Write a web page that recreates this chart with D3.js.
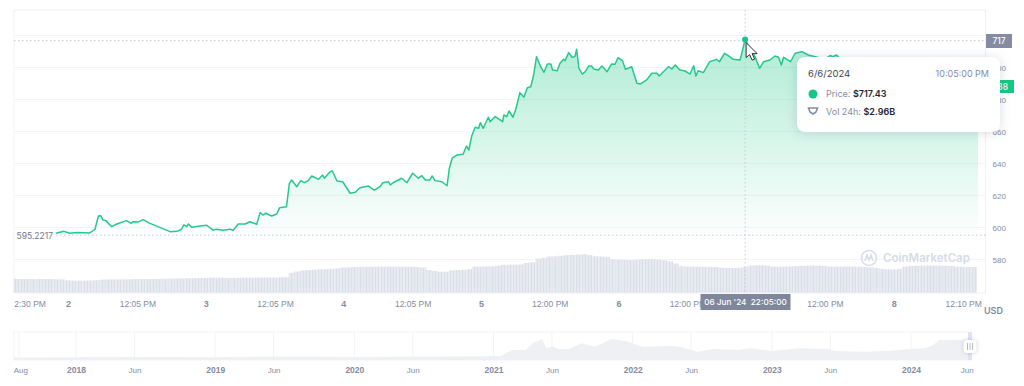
<!DOCTYPE html>
<html>
<head>
<meta charset="utf-8">
<script src="https://cdn.jsdelivr.net/npm/d3@7"></script>
<style>
  html, body { margin: 0; padding: 0; background: #fff; }
  svg { display: block; font-family: Inter, "Noto Sans", sans-serif; }
  .domain { display: none; }
</style>
</head>
<body>
<svg id="chart" width="1024" height="386"></svg>
<script>
// hours counted from 2 Jun 2024 00:00
const priceHours = [-2.1,-0.7,0.3,1.6,3.8,4.7,5.3,5.7,6.1,6.6,7.6,8.5,10.2,11.0,11.3,12.2,13.1,14.3,16.0,17.8,19.0,19.8,20.2,20.7,21.0,21.6,23.0,24.2,25.3,25.9,27.0,28.3,28.8,29.7,30.9,31.7,32.9,33.5,34.0,34.5,35.5,36.4,36.9,38.1,38.6,39.0,39.9,40.6,41.2,41.9,42.5,43.7,44.4,44.7,45.7,46.1,46.9,47.9,49.2,50.1,50.9,52.4,53.4,54.4,54.9,55.9,56.2,57.0,58.2,59.1,60.1,61.1,61.7,62.3,63.1,63.5,64.0,65.2,66.1,66.5,67.0,67.8,68.9,69.5,69.9,70.4,71.0,71.6,71.9,72.4,73.3,73.6,74.5,75.8,76.0,76.5,76.9,77.6,78.1,78.8,79.5,80.1,80.7,81.2,81.7,82.3,82.6,83.0,83.6,84.2,84.5,85.3,85.8,86.4,86.7,87.3,87.9,88.4,88.7,89.1,89.7,90.2,90.8,91.3,91.7,92.5,93.1,94.0,94.8,95.4,95.9,96.7,97.2,98.3,99.2,99.8,100.9,101.8,102.7,103.1,104.7,105.3,105.9,106.7,107.6,108.5,109.1,109.5,109.9,110.8,111.9,113.1,113.6,114.5,115.2,116.0,117.2,118.08,118.6,119.8,120.6,121.3,122.4,123.3,123.9,124.4,124.8,126.0,126.8,128.0,129.1,131.2,132.0,132.9,133.4,134.0,134.7,136.4,141.6,146.9,152.1,155.6,158.7];
const priceValues = [596.4,597.6,596.4,596.8,596.6,598.9,607.2,607.4,604.7,604.3,600.5,602.2,604.3,602.6,603.6,603.4,604.9,602.6,600.1,597.4,597.6,598.9,601.6,600.5,602.2,600.1,600.9,601.4,598.4,598.9,598.3,598.9,598.3,602.2,602.2,603.6,602.0,609.3,607.8,608.9,607.2,608.4,612.4,613.0,627.6,629.7,625.5,629.3,628.0,629.3,632.2,630.1,632.8,630.8,634.9,635.3,629.1,628.6,621.4,622.0,624.9,625.9,623.4,625.5,628.0,628.6,626.6,628.6,630.8,628.0,633.9,630.8,632.4,629.7,629.7,632.2,629.3,628.6,626.1,637.0,643.3,645.3,645.8,650.9,648.4,657.2,662.6,662.0,665.5,662.0,668.9,666.1,669.3,666.1,670.3,669.3,672.8,668.9,673.9,684.3,681.4,687.4,688.0,695.3,706.8,701.6,699.5,697.0,702.2,702.2,698.4,698.0,702.6,705.1,704.3,709.3,706.4,706.8,711.4,699.5,695.9,697.4,700.9,700.9,699.1,698.4,700.9,697.4,702.2,702.0,706.1,704.3,698.9,700.5,690.1,689.7,692.2,696.4,696.4,694.7,700.5,699.1,701.6,698.4,697.8,695.9,701.1,694.7,698.0,696.8,703.6,705.1,703.6,708.9,707.2,705.1,704.7,717.43,714.1,706.8,699.5,703.6,704.7,707.2,706.4,701.6,706.4,703.6,708.9,709.9,707.8,705.9,705.3,707.5,706.8,707.8,705.3,700.9,697.2,699.7,694.7,692.2,688.4];

// one volume bar per hour (billions USD), first bar at hour -9
const firstVolumeHour = -9;
const volumes = [1.60,1.59,1.60,1.58,1.60,1.59,1.58,1.57,1.55,1.44,1.42,1.41,1.42,1.42,1.46,1.52,1.54,1.55,1.55,1.56,1.56,1.58,1.58,1.60,1.60,1.61,1.62,1.64,1.66,1.66,1.68,1.70,1.72,1.72,1.74,1.74,1.74,1.72,1.72,1.74,1.74,1.75,1.75,1.76,1.76,1.76,1.78,1.80,2.30,2.45,2.55,2.60,2.65,2.70,2.72,2.75,2.80,2.90,2.92,2.95,2.97,2.97,2.98,2.98,3.00,3.00,3.00,2.98,2.98,2.98,2.95,2.90,2.60,2.50,2.42,2.42,2.58,2.62,2.65,2.72,2.99,3.00,3.02,3.03,3.10,3.20,3.22,3.22,3.25,3.40,3.50,3.92,4.00,4.15,4.17,4.25,4.30,4.33,4.37,4.40,4.30,4.18,4.15,4.12,3.85,3.80,3.78,3.75,3.78,3.82,3.85,3.85,3.80,3.72,3.60,3.35,3.05,3.00,3.00,2.98,2.98,2.96,2.95,2.88,2.85,2.85,2.88,2.96,3.10,3.15,3.15,3.12,3.00,2.98,3.00,3.02,3.05,3.08,3.10,3.12,3.10,3.08,3.02,3.00,3.00,3.02,3.00,2.98,2.95,2.92,2.85,2.75,2.70,2.68,2.75,3.00,3.08,3.10,3.10,3.12,3.12,3.10,3.10,3.08,3.00,2.98,2.96,2.96];

const priceTicks = [580,600,620,640,660,680,700,720];
const timeTickHours = [-6.7,0,12.1,24,36.1,48,60.1,72,84,96,108,132,144,156.1];
const timeTickLabels = ["2:30 PM","2","12:05 PM","3","12:05 PM","4","12:05 PM","5","12:00 PM","6","12:00 PM","12:00 PM","8","12:10 PM"];

const startPrice = 595.2217;
const hoverHour = 118.08, hoverPrice = 717.43, lastPrice = 688.4;

// navigator: decimal years and price
const navYears = [2017.6,2018,2018.1,2019,2019.5,2020,2020.6,2020.95,2021.05,2021.09,2021.13,2021.23,2021.28,2021.35,2021.38,2021.42,2021.47,2021.54,2021.63,2021.73,2021.85,2021.97,2022.07,2022.14,2022.26,2022.34,2022.46,2022.59,2022.76,2022.84,2023.0,2023.2,2023.41,2023.45,2023.67,2023.84,2023.99,2024.1,2024.16,2024.2,2024.34,2024.42];
const navPrices = [1,8,12,6,30,15,28,35,42,130,225,225,426,555,276,324,255,246,426,324,555,474,324,324,354,324,174,255,225,276,195,276,255,195,174,195,255,276,375,525,525,546];
const navTickYears = [2017.6,2018,2018.42,2019,2019.42,2020,2020.42,2021,2021.42,2022,2022.42,2023,2023.42,2024,2024.4];
const navTickLabels = ["Aug","2018","Jun","2019","Jun","2020","Jun","2021","Jun","2022","Jun","2023","Jun","2024","Jun"];
const navGridYears = [2017.59,2018,2018.42,2019,2019.42,2020,2020.42,2021,2021.42,2022,2022.42,2023,2023.42,2024];

const priceData = priceHours.map((h, i) => ({ h, v: priceValues[i] }));
const navData = navYears.map((yr, i) => ({ yr, v: navPrices[i] }));

const plot = { left: 14, right: 985.5, top: 10, bottom: 293 };
const svg = d3.select("#chart");

const x = d3.scaleLinear().domain([-9.42, 160]).range([plot.left, plot.right]);
const y = d3.scaleLinear().domain([580, 700]).range([259.5, 67.5]);
const yVol = d3.scaleLinear().domain([0, 4.55]).range([plot.bottom, 253]);

const defs = svg.append("defs");
const grad = defs.append("linearGradient")
  .attr("id", "areaFill")
  .attr("gradientUnits", "userSpaceOnUse")
  .attr("x1", 0).attr("x2", 0)
  .attr("y1", y(717)).attr("y2", y(startPrice));
grad.append("stop").attr("offset", 0).attr("stop-color", "#16c784").attr("stop-opacity", 0.34);
grad.append("stop").attr("offset", 1).attr("stop-color", "#16c784").attr("stop-opacity", 0.01);

const stripes = defs.append("pattern")
  .attr("id", "volStripes")
  .attr("patternUnits", "userSpaceOnUse")
  .attr("width", 3).attr("height", 4);
stripes.append("rect").attr("width", 3).attr("height", 4).attr("fill", "#e6e9f0");
stripes.append("rect").attr("width", 1).attr("height", 4).attr("fill", "#d9deE8");

// horizontal grid
svg.append("g").selectAll("line").data(priceTicks).enter().append("line")
  .attr("x1", plot.left).attr("x2", plot.right)
  .attr("y1", (d) => y(d)).attr("y2", (d) => y(d))
  .attr("stroke", "#f3f4f7");

// plot frame
svg.append("path")
  .attr("d", `M${plot.left},${plot.bottom}V${plot.top}H${plot.right}V${plot.bottom}`)
  .attr("fill", "none").attr("stroke", "#eff1f5");

// volume bars
const barWidth = x(1) - x(0);
svg.append("g").selectAll("rect").data(volumes).enter().append("rect")
  .attr("x", (d, i) => x(firstVolumeHour + i) - barWidth / 2)
  .attr("width", barWidth)
  .attr("y", (d) => yVol(d))
  .attr("height", (d) => yVol(0) - yVol(d))
  .attr("fill", "url(#volStripes)");

svg.append("line")
  .attr("x1", plot.left).attr("x2", plot.right)
  .attr("y1", plot.bottom).attr("y2", plot.bottom)
  .attr("stroke", "#eff1f5");

// watermark
const mark = svg.append("g").attr("transform", "translate(869,258)");
mark.append("circle").attr("r", 7.5).attr("fill", "none").attr("stroke", "#d6dce9").attr("stroke-width", 1.6);
mark.append("path").attr("d", "M-4,3 L-2,-3 L0,2 L2,-3 L4,3").attr("fill", "none").attr("stroke", "#d6dce9").attr("stroke-width", 1.4);
svg.append("text").attr("x", 883).attr("y", 262).text("CoinMarketCap")
  .attr("font-size", 11.5).attr("font-weight", 600).attr("fill", "#d6dce9");

// price area and line
const area = d3.area().x((d) => x(d.h)).y0(y(startPrice)).y1((d) => y(d.v));
const line = d3.line().x((d) => x(d.h)).y((d) => y(d.v));

svg.append("path").datum(priceData).attr("d", area).attr("fill", "url(#areaFill)");
svg.append("path").datum(priceData).attr("d", line)
  .attr("fill", "none").attr("stroke", "#26c98d").attr("stroke-width", 1.5)
  .attr("stroke-linejoin", "round");

// dotted guides
const guide = (x1, x2, y1, y2) => svg.append("line")
  .attr("x1", x1).attr("x2", x2).attr("y1", y1).attr("y2", y2)
  .attr("stroke", "#c3c9d6").attr("stroke-dasharray", "1.5 2.5");
guide(56, plot.right, y(startPrice), y(startPrice));
guide(plot.left, plot.right, y(hoverPrice) + 1, y(hoverPrice) + 1);
guide(x(hoverHour), x(hoverHour), plot.top, plot.bottom);

svg.append("text").attr("x", 53).attr("y", y(startPrice) + 3.5).attr("text-anchor", "end")
  .attr("font-size", 8.5).attr("fill", "#6f7790").text(startPrice);

svg.append("circle").attr("cx", x(hoverHour)).attr("cy", y(hoverPrice)).attr("r", 3).attr("fill", "#16c784");

// y axis
const yAxis = svg.append("g")
  .attr("transform", `translate(${plot.right},0)`)
  .call(d3.axisRight(y).tickValues(priceTicks.slice(0, 7)).tickSize(0).tickPadding(7));
yAxis.selectAll("text").attr("font-family", "inherit").attr("font-size", 8).attr("fill", "#858ca2");

// x axis
const xAxis = svg.append("g")
  .attr("transform", `translate(0,${plot.bottom})`)
  .call(d3.axisBottom(x).tickValues(timeTickHours).tickSize(0).tickPadding(8)
    .tickFormat((d, i) => timeTickLabels[i]));
xAxis.selectAll("text")
  .attr("font-family", "inherit")
  .attr("font-size", (d, i) => (timeTickLabels[i].length === 1 ? 9 : 8.5))
  .attr("font-weight", (d, i) => (timeTickLabels[i].length === 1 ? 700 : 400))
  .attr("fill", "#858ca2");

svg.append("text").attr("x", 984).attr("y", 314).text("USD")
  .attr("font-size", 9).attr("font-weight", 600).attr("fill", "#7f879c");

// price tags
const tag = (tx, ty, w, h, fill, label, size) => {
  svg.append("rect").attr("x", tx).attr("y", ty).attr("width", w).attr("height", h).attr("fill", fill);
  svg.append("text").attr("x", tx + w / 2).attr("y", ty + h / 2 + 3).attr("text-anchor", "middle")
    .attr("font-size", size).attr("font-weight", 500).attr("fill", "#fff").text(label);
};
tag(986, 34, 26, 14, "#858ca2", Math.floor(hoverPrice), 8.5);
tag(986, 80, 28, 13, "#16c784", Math.floor(lastPrice), 8.5);
tag(700.5, 294, 90, 16, "#7f879c", "06 Jun '24\u00a0\u00a022:05:00", 8.2);

// tooltip
const tip = svg.append("g").attr("transform", "translate(797,57)");
tip.append("rect").attr("width", 203).attr("height", 75).attr("rx", 8).attr("fill", "#fff")
  .style("filter", "drop-shadow(0 1px 6px rgba(88,102,126,0.22))");
tip.append("text").attr("x", 11).attr("y", 20).attr("font-size", 9.5).attr("fill", "#3d4354").text("6/6/2024");
tip.append("text").attr("x", 192).attr("y", 20).attr("text-anchor", "end").attr("font-size", 9).attr("fill", "#858ca2").text("10:05:00 PM");
tip.append("circle").attr("cx", 16).attr("cy", 37).attr("r", 4.5).attr("fill", "#16c784");
const priceRow = tip.append("text").attr("x", 29).attr("y", 40).attr("font-size", 9);
priceRow.append("tspan").attr("fill", "#858ca2").text("Price: ");
priceRow.append("tspan").attr("fill", "#222531").attr("font-weight", 600).text("$717.43");
tip.append("path").attr("d", "M11.5,51 H20.5 L19,55 L16,57 L13,55 Z").attr("fill", "none").attr("stroke", "#858ca2").attr("stroke-width", 1.6);
const volRow = tip.append("text").attr("x", 29).attr("y", 58).attr("font-size", 9);
volRow.append("tspan").attr("fill", "#858ca2").text("Vol 24h: ");
volRow.append("tspan").attr("fill", "#222531").attr("font-weight", 600).text("$2.96B");

// mouse cursor
svg.append("path")
  .attr("transform", `translate(${x(hoverHour) + 1},${y(hoverPrice) + 3})`)
  .attr("d", "M0,0 V15 L3.5,12 L6,17.5 L8.5,16.5 L6,11 H11 Z")
  .attr("fill", "#fff").attr("stroke", "#333").attr("stroke-width", 1);

// navigator
const navX = d3.scaleLinear().domain([2018, 2024]).range([76, 911]);
const navY = d3.scaleLinear().domain([-75, 720]).range([360, 333.5]);

svg.append("rect").attr("x", 14).attr("y", 332).attr("width", 957).attr("height", 28)
  .attr("fill", "none").attr("stroke", "#f2f3f6");
svg.append("g").selectAll("line").data(navGridYears).enter().append("line")
  .attr("x1", (d) => navX(d)).attr("x2", (d) => navX(d))
  .attr("y1", 332).attr("y2", 360).attr("stroke", "#f2f3f6");

const navArea = d3.area().x((d) => navX(d.yr)).y0(navY(-75)).y1((d) => navY(d.v));
svg.append("rect").attr("x", 14).attr("y", navY(0)).attr("width", navX(2017.6) - 14)
  .attr("height", navY(-75) - navY(0)).attr("fill", "#eef0f4");
svg.append("path").datum(navData).attr("d", navArea).attr("fill", "#eef0f4");

svg.append("rect").attr("x", 968).attr("y", 332).attr("width", 4).attr("height", 28).attr("fill", "#dde4f5");
svg.append("rect").attr("x", 963.5).attr("y", 340).attr("width", 13).attr("height", 13).attr("rx", 3)
  .attr("fill", "#fff").style("filter", "drop-shadow(0 0 2px rgba(88,102,126,0.3))");
svg.append("path").attr("d", "M967.5,343V350M970,343V350M972.5,343V350").attr("stroke", "#b6bccb").attr("stroke-width", 1);

const navAxis = svg.append("g")
  .attr("transform", "translate(0,360)")
  .call(d3.axisBottom(navX).tickValues(navTickYears).tickSize(0).tickPadding(7)
    .tickFormat((d, i) => navTickLabels[i]));
navAxis.selectAll("text")
  .attr("font-family", "inherit")
  .attr("font-size", (d, i) => (navTickLabels[i].length === 4 ? 8.5 : 8))
  .attr("font-weight", (d, i) => (navTickLabels[i].length === 4 ? 700 : 400))
  .attr("fill", "#858ca2");
</script>
</body>
</html>
